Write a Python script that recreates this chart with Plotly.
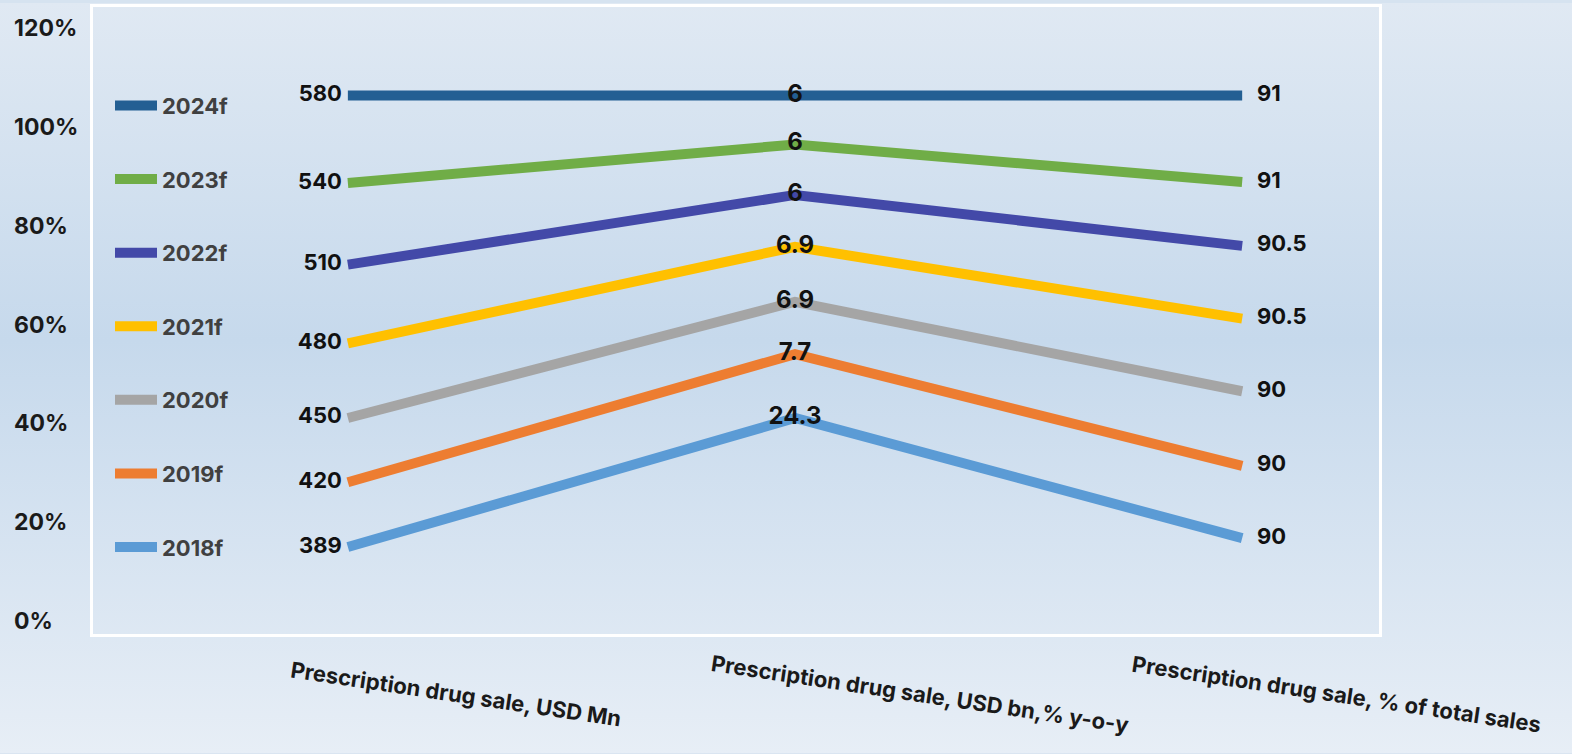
import base64
import plotly.graph_objects as go

# ---------------- data ----------------
categories = [
    "Prescription drug sale, USD Mn",
    "Prescription drug sale, USD bn,% y-o-y",
    "Prescription drug sale, % of total sales",
]
x_pos = [0, 1, 2]

series_names = ["2018f", "2019f", "2020f", "2021f", "2022f", "2023f", "2024f"]

y_2018f = [15.0, 41.1, 16.8]
y_2019f = [28.1, 54.0, 31.4]
y_2020f = [41.1, 64.6, 46.5]
y_2021f = [56.2, 75.7, 61.2]
y_2022f = [72.1, 86.2, 75.9]
y_2023f = [88.6, 96.4, 88.8]
y_2024f = [106.3, 106.3, 106.3]

lbl_2018f = ["389", "24.3", "90"]
lbl_2019f = ["420", "7.7", "90"]
lbl_2020f = ["450", "6.9", "90"]
lbl_2021f = ["480", "6.9", "90.5"]
lbl_2022f = ["510", "6", "90.5"]
lbl_2023f = ["540", "6", "91"]
lbl_2024f = ["580", "6", "91"]

y_ticks = [0, 20, 40, 60, 80, 100, 120]
y_tick_labels = ["0%", "20%", "40%", "60%", "80%", "100%", "120%"]

# ---------------- style ----------------
colors = ["#5b9bd5", "#ed7d31", "#a5a5a5", "#ffc000", "#4349a8", "#70ad47", "#235f93"]
FONT = "Inter, Liberation Sans, Arial, sans-serif"

series_y = [y_2018f, y_2019f, y_2020f, y_2021f, y_2022f, y_2023f, y_2024f]
series_lbl = [lbl_2018f, lbl_2019f, lbl_2020f, lbl_2021f, lbl_2022f, lbl_2023f, lbl_2024f]

fig = go.Figure()

# legend entries (top: 2024f)
for i in reversed(range(len(series_names))):
    fig.add_trace(go.Scatter(
        x=[None], y=[None], name=series_names[i], mode="lines",
        line=dict(color=colors[i], width=17),
        legendgroup=series_names[i], showlegend=True, hoverinfo="skip",
    ))

for i, name in enumerate(series_names):
    fig.add_trace(go.Scatter(
        x=x_pos, y=series_y[i], name=name, mode="lines+markers+text",
        text=series_lbl[i],
        textposition=["middle left", "middle center", "middle right"],
        textfont=dict(family=FONT, size=[22, 24, 22], color="#111111", weight="bold"),
        marker=dict(size=[8, 0, 22], color="rgba(0,0,0,0)", line=dict(width=0)),
        line=dict(color=colors[i], width=10),
        showlegend=False,
        hoverinfo="skip",
    ))

# background gradient
svg = """<svg xmlns='http://www.w3.org/2000/svg' width='1572' height='754' preserveAspectRatio='none'>
<defs><linearGradient id='g' x1='0' y1='0' x2='0' y2='1'>
<stop offset='0' stop-color='#e0e9f3'/>
<stop offset='0.45' stop-color='#c6d9ec'/>
<stop offset='1' stop-color='#e7eef6'/>
</linearGradient></defs>
<rect width='1572' height='754' fill='url(#g)'/>
</svg>"""
src = "data:image/svg+xml;base64," + base64.b64encode(svg.encode()).decode()

L, R, T, B = 93, 193, 4, 120
W, H = 1572, 754
pw, ph = W - L - R, H - T - B

annotations = []
for v, t in zip(y_ticks, y_tick_labels):
    annotations.append(dict(
        x=(12 - L) / pw, xref="paper", xanchor="left",
        y=v, yref="y", yanchor="middle",
        text=t, showarrow=False,
        font=dict(family=FONT, size=23, color="#1a1a1a", weight="bold"),
    ))

cat_shift = [108, 125, 94]
for i, c in enumerate(categories):
    annotations.append(dict(
        x=x_pos[i], xref="x", xshift=cat_shift[i],
        y=0, yref="paper", yshift=-60, xanchor="center", yanchor="middle",
        text=c, showarrow=False, textangle=8.5,
        font=dict(family=FONT, size=22, color="#1a1a1a", weight="bold"),
    ))

fig.update_layout(
    width=W, height=H,
    margin=dict(l=L, r=R, t=T, b=B, pad=0),
    paper_bgcolor="#d6e3f0",
    plot_bgcolor="rgba(0,0,0,0)",
    showlegend=True,
    legend=dict(
        x=(110 - L) / pw, xanchor="left", y=1 - (82 - T) / ph, yanchor="top",
        traceorder="grouped", tracegroupgap=42,
        font=dict(family=FONT, size=22, color="#404040", weight="bold"),
        bgcolor="rgba(0,0,0,0)", itemwidth=42,
    ),
    xaxis=dict(range=[-0.570, 2.306], showgrid=False, zeroline=False,
               showticklabels=False, showline=True, linecolor="white",
               linewidth=3, mirror=True, fixedrange=True),
    yaxis=dict(range=[-2.58, 124.2], showgrid=False, zeroline=False,
               showticklabels=False, showline=True, linecolor="white",
               linewidth=3, mirror=True, fixedrange=True, tickvals=y_ticks),
    annotations=annotations,
    images=[dict(source=src, xref="paper", yref="paper",
                 x=-L / pw, y=1 + T / ph, sizex=W / pw, sizey=H / ph,
                 sizing="stretch", layer="below", xanchor="left", yanchor="top")],
)

fig.write_html("out.html", config={"displayModeBar": False})
